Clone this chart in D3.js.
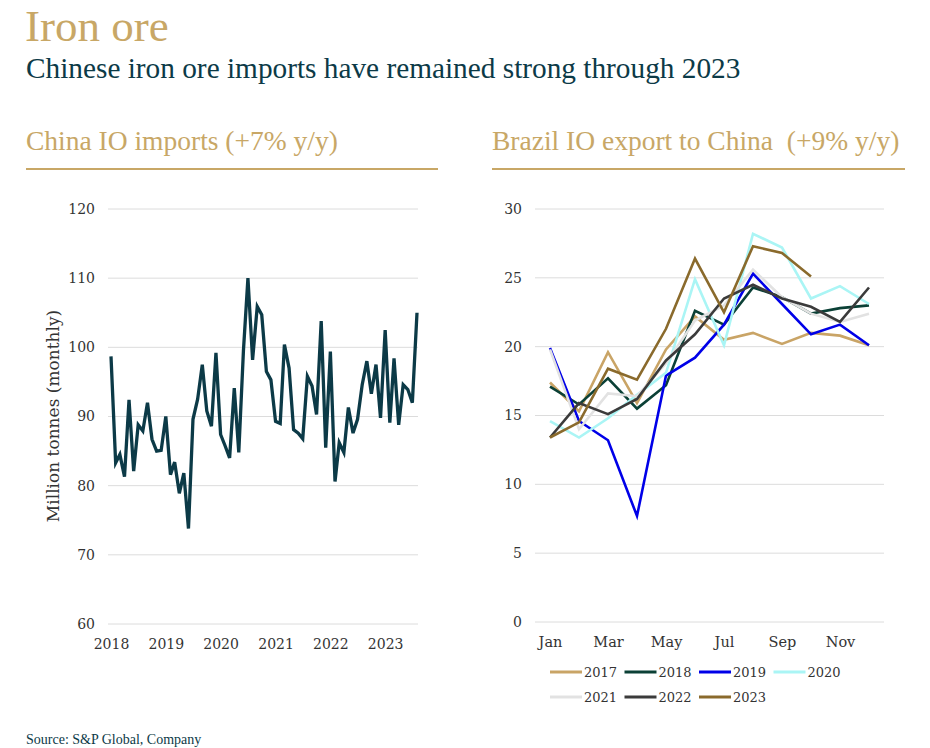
<!DOCTYPE html>
<html>
<head>
<meta charset="utf-8">
<script src="https://cdn.jsdelivr.net/npm/d3@7"></script>
<style>
  body { margin: 0; background: #ffffff; }
  .tick text { font-family: "DejaVu Serif", serif; fill: #333333; }
</style>
</head>
<body>
<div id="viz-container"></div>
<script>
// data

// left: China iron ore imports, monthly, Jan 2018 - Aug 2023 (Mt)
let importStart = new Date(2018, 0, 1);
let chinaImports = [
  98.7, 83.3, 84.5, 81.3, 92.4, 82.1, 88.8, 87.9, 92.0, 86.7, 85.0, 85.1,
  90.0, 81.6, 83.4, 78.9, 81.8, 73.8, 89.6, 92.5, 97.5, 90.8, 88.6, 99.2,
  87.4, 85.7, 84.0, 94.1, 84.8, 99.5, 110.0, 98.2, 105.9, 104.7, 96.5, 95.3,
  89.3, 89.0, 100.4, 97.0, 88.1, 87.6, 86.8, 95.8, 94.4, 90.3, 103.8, 85.5,
  99.4, 80.6, 86.2, 84.8, 91.3, 87.6, 89.6, 94.6, 98.0, 93.3, 97.5, 89.8,
  102.5, 89.1, 98.4, 88.8, 94.6, 93.9, 92.0, 105.0
];
let yearTicks = ["2018", "2019", "2020", "2021", "2022", "2023"];
let importTicks = [60, 70, 80, 90, 100, 110, 120];

// right: Brazil iron ore exports to China by month (Mt)
let months = ["Jan", "Feb", "Mar", "Apr", "May", "Jun", "Jul", "Aug", "Sep", "Oct", "Nov", "Dec"];
let monthTicks = ["Jan", "Mar", "May", "Jul", "Sep", "Nov"];
let exportTicks = [0, 5, 10, 15, 20, 25, 30];
let seriesYears = ["2017", "2018", "2019", "2020", "2021", "2022", "2023"];
let y2017 = [17.4, 15.3, 19.6, 15.9, 19.8, 22.2, 20.5, 21.0, 20.2, 21.0, 20.8, 20.1];
let y2018 = [17.1, 15.8, 17.7, 15.5, 17.2, 22.6, 21.6, 24.3, 23.6, 22.4, 22.8, 23.0];
let y2019 = [19.9, 14.6, 13.2, 7.7, 17.9, 19.2, 21.6, 25.3, 23.1, 20.9, 21.6, 20.1];
let y2020 = [14.6, 13.4, 14.8, 16.5, 18.1, 24.9, 20.1, 28.2, 27.2, 23.5, 24.4, 23.1];
let y2021 = [19.8, 14.0, 16.6, 16.4, 18.8, 21.9, 23.0, 25.6, 23.6, 22.4, 21.8, 22.4];
let y2022 = [13.4, 15.9, 15.1, 16.2, 19.0, 20.9, 23.5, 24.5, 23.5, 22.9, 21.8, 24.3];
let y2023 = [13.4, 14.5, 18.4, 17.6, 21.3, 26.4, 22.5, 27.3, 26.8, 25.1];
let seriesValues = [y2017, y2018, y2019, y2020, y2021, y2022, y2023];
let seriesColors = ["#c9a466", "#0b4036", "#0000e8", "#aaf5f5", "#e2e2e2", "#3b3b3b", "#8a6a2c"];

let gold = "#c8a766";
let teal = "#0c3a47";
let serif = "'Liberation Serif', serif";

let viz = d3.select("#viz-container")
  .append("svg")
    .attr("width", 930)
    .attr("height", 748);

// headings
viz.append("text").attr("x", 25).attr("y", 41)
  .attr("font-family", serif).attr("font-size", 45).attr("fill", gold)
  .text("Iron ore");
viz.append("text").attr("x", 26).attr("y", 78)
  .attr("font-family", serif).attr("font-size", 29.3).attr("fill", teal)
  .text("Chinese iron ore imports have remained strong through 2023");

viz.append("text").attr("x", 26).attr("y", 150)
  .attr("font-family", serif).attr("font-size", 27.5).attr("fill", gold)
  .text("China IO imports (+7% y/y)");
viz.append("text").attr("x", 492).attr("y", 150)
  .attr("font-family", serif).attr("font-size", 27.5).attr("fill", gold)
  .attr("xml:space", "preserve")
  .text("Brazil IO export to China  (+9% y/y)");

viz.append("line").attr("x1", 26).attr("x2", 438).attr("y1", 169).attr("y2", 169)
  .attr("stroke", gold).attr("stroke-width", 2);
viz.append("line").attr("x1", 492).attr("x2", 905).attr("y1", 169).attr("y2", 169)
  .attr("stroke", gold).attr("stroke-width", 2);

// ---------- left chart ----------
let importDates = chinaImports.map(function(v, i){ return d3.timeMonth.offset(importStart, i); });

let xLeft = d3.scaleTime()
  .domain([importStart, importDates[importDates.length - 1]])
  .range([111, 417]);
let yLeft = d3.scaleLinear().domain([60, 120]).range([624, 209]);

// gridlines
viz.append("g").selectAll("line").data(importTicks).enter().append("line")
  .attr("x1", 108).attr("x2", 418)
  .attr("y1", function(d){ return yLeft(d); })
  .attr("y2", function(d){ return yLeft(d); })
  .attr("stroke", "#dcdcdc").attr("stroke-width", 1);

let leftYAxis = viz.append("g")
  .attr("transform", "translate(100,0)")
  .call(d3.axisLeft(yLeft).tickValues(importTicks).tickSize(0).tickPadding(5));
leftYAxis.select(".domain").remove();
leftYAxis.selectAll("text").attr("font-size", 14);

let leftXAxis = viz.append("g")
  .attr("transform", "translate(0,636)")
  .call(d3.axisBottom(xLeft)
    .tickValues(yearTicks.map(function(y){ return new Date(+y, 0, 1); }))
    .tickFormat(d3.timeFormat("%Y"))
    .tickSize(0).tickPadding(3));
leftXAxis.select(".domain").remove();
leftXAxis.selectAll("text").attr("font-size", 14);

viz.append("text")
  .attr("transform", "translate(59,416) rotate(-90)")
  .attr("text-anchor", "middle")
  .attr("font-family", "'DejaVu Serif', serif").attr("font-size", 17)
  .attr("fill", "#333333")
  .text("Million tonnes (monthly)");

let importLine = d3.line()
  .x(function(d, i){ return xLeft(importDates[i]); })
  .y(function(d){ return yLeft(d); });

viz.append("path").datum(chinaImports)
  .attr("d", importLine)
  .attr("fill", "none")
  .attr("stroke", teal)
  .attr("stroke-width", 3.3)
  .attr("stroke-linejoin", "miter");

// ---------- right chart ----------
let xRight = d3.scalePoint().domain(months).range([550, 869]);
let yRight = d3.scaleLinear().domain([0, 30]).range([622, 209]);

viz.append("g").selectAll("line").data(exportTicks).enter().append("line")
  .attr("x1", 535).attr("x2", 884)
  .attr("y1", function(d){ return yRight(d); })
  .attr("y2", function(d){ return yRight(d); })
  .attr("stroke", "#dcdcdc").attr("stroke-width", 1);

let rightYAxis = viz.append("g")
  .attr("transform", "translate(527,0)")
  .call(d3.axisLeft(yRight).tickValues(exportTicks).tickSize(0).tickPadding(5));
rightYAxis.select(".domain").remove();
rightYAxis.selectAll("text").attr("font-size", 14);

let rightXAxis = viz.append("g")
  .attr("transform", "translate(0,634)")
  .call(d3.axisBottom(xRight).tickValues(monthTicks).tickSize(0).tickPadding(3));
rightXAxis.select(".domain").remove();
rightXAxis.selectAll("text").attr("font-size", 14.5);

let exportLine = d3.line()
  .x(function(d, i){ return xRight(months[i]); })
  .y(function(d){ return yRight(d); });

viz.append("g").selectAll(".years").data(seriesValues).enter().append("path")
  .attr("class", "years")
  .attr("d", exportLine)
  .attr("fill", "none")
  .attr("stroke", function(d, i){ return seriesColors[i]; })
  .attr("stroke-width", 2.6);

// legend, two rows of four
let legend = viz.append("g").selectAll(".legend").data(seriesYears).enter().append("g")
  .attr("class", "legend")
  .attr("transform", function(d, i){
    return "translate(" + (550 + (i % 4) * 74.5) + "," + (672 + Math.floor(i / 4) * 25) + ")";
  });
legend.append("line")
  .attr("x1", 0).attr("x2", 32).attr("y1", 0).attr("y2", 0)
  .attr("stroke", function(d, i){ return seriesColors[i]; })
  .attr("stroke-width", 3);
legend.append("text")
  .attr("x", 34).attr("y", 5)
  .attr("font-family", "'DejaVu Serif', serif").attr("font-size", 13)
  .attr("fill", "#333333")
  .text(function(d){ return d; });

// source, kept on the bottom edge like the original
viz.append("text").attr("x", 26).attr("y", 744)
  .attr("font-family", serif).attr("font-size", 14).attr("fill", teal)
  .text("Source: S&P Global, Company");
</script>
</body>
</html>
